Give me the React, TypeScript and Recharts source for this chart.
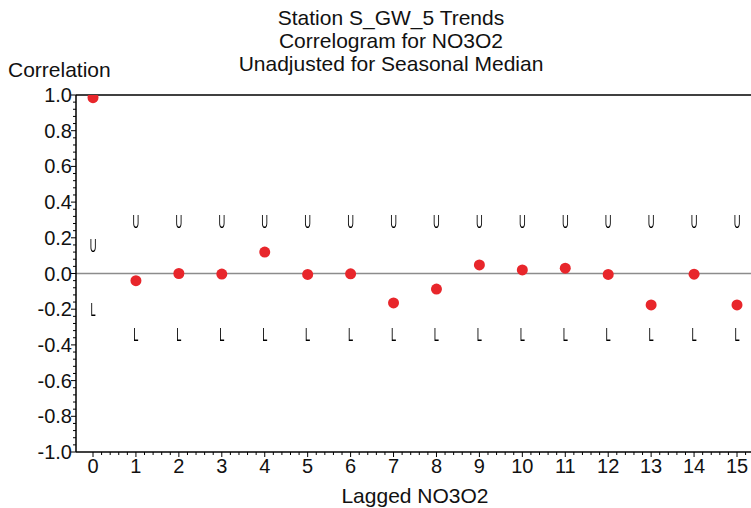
import {
  ReferenceLine,
  Scatter,
  ScatterChart,
  Text,
  XAxis,
  YAxis,
} from "recharts";

const lags = [0, 1, 2, 3, 4, 5, 6, 7, 8, 9, 10, 11, 12, 13, 14, 15];
const correlation = [
  0.985, -0.04, 0.0, -0.003, 0.12, -0.005, -0.002, -0.165, -0.087, 0.048,
  0.02, 0.03, -0.005, -0.176, -0.004, -0.176,
];
const upperBound = [
  0.158, 0.294, 0.294, 0.294, 0.294, 0.294, 0.294, 0.294, 0.294, 0.294,
  0.294, 0.294, 0.294, 0.294, 0.294, 0.294,
];
const lowerBound = [
  -0.2, -0.339, -0.339, -0.339, -0.339, -0.339, -0.339, -0.339, -0.339,
  -0.339, -0.339, -0.339, -0.339, -0.339, -0.339, -0.339,
];
const xTickLabels = lags.map(String);
const yTickLabels = ["-1.0", "-0.8", "-0.6", "-0.4", "-0.2", "0.0", "0.2", "0.4", "0.6", "0.8", "1.0"];

const titleLines = [
  "Station S_GW_5 Trends",
  "Correlogram for NO3O2",
  "Unadjusted for Seasonal Median",
];

const FONT = "'Liberation Sans', Arial, sans-serif";

// minor ticks every 0.2 on x and 0.04 on y
const xTicks = Array.from({ length: 77 }, (_, i) => Math.round(i * 2) / 10);
const yTicks = Array.from({ length: 51 }, (_, i) => Math.round((-1 + i * 0.04) * 100) / 100);

const corrPts = lags.map((lag, i) => ({ x: lag, y: correlation[i] }));
const upperPts = lags.map((lag, i) => ({ x: lag, y: upperBound[i] }));
const lowerPts = lags.map((lag, i) => ({ x: lag, y: lowerBound[i] }));

function XTick(props: any) {
  const { x, y, payload } = props;
  const v = payload.value as number;
  const major = Number.isInteger(v);
  return (
    <g>
      <line x1={x} x2={x} y1={y} y2={y + (major ? 5 : 3)} stroke="#000" strokeWidth={1} />
      {major && (
        <text x={x} y={y + 21} textAnchor="middle" fontSize={20} fontFamily={FONT} fill="#111">
          {xTickLabels[v]}
        </text>
      )}
    </g>
  );
}

function YTick(props: any) {
  const { x, y, payload } = props;
  const v = payload.value as number;
  const k = Math.round(v * 100);
  const major = k % 20 === 0;
  return (
    <g>
      <line x1={x} x2={x - (major ? 5 : 3)} y1={y} y2={y} stroke="#000" strokeWidth={1} />
      {major && (
        <text x={x - 4} y={y + 7} textAnchor="end" fontSize={20} fontFamily={FONT} fill="#111">
          {yTickLabels[(k + 100) / 20]}
        </text>
      )}
    </g>
  );
}

const dot = (props: any) => <circle cx={props.cx} cy={props.cy} r={5.5} fill="#e8262b" />;

// narrow U / L markers; the grey filter keeps the squeezed glyphs from colour fringing
const letter = (ch: string) => (props: any) => (
  <g filter="url(#mono)">
    <text
      transform={`translate(${props.cx},${props.cy + 6.5}) scale(0.52,1)`}
      textAnchor="middle"
      fontSize={18}
      fontFamily={FONT}
      fill="#000"
    >
      {ch}
    </text>
  </g>
);

export default function App() {
  return (
    <div style={{ position: "absolute", left: 0, top: 0, width: 751, height: 508, background: "#fff" }}>
      <svg width={0} height={0} style={{ position: "absolute" }}>
        <defs>
          <filter id="mono" x="-50%" y="-50%" width="200%" height="200%">
            <feColorMatrix type="saturate" values="0" />
          </filter>
        </defs>
      </svg>
      <ScatterChart width={751} height={508} margin={{ top: 95, right: 0, bottom: 0, left: 0 }}>
        <XAxis
          type="number"
          dataKey="x"
          domain={[-0.396, 15.326]}
          ticks={xTicks}
          interval={0}
          tick={<XTick />}
          tickLine={false}
          tickSize={0}
          tickMargin={0}
          height={56}
          axisLine={{ stroke: "#000", strokeWidth: 1.5 }}
          allowDataOverflow
        />
        <YAxis
          type="number"
          dataKey="y"
          domain={[-1, 1]}
          ticks={yTicks}
          interval={0}
          tick={<YTick />}
          tickLine={false}
          tickSize={0}
          tickMargin={0}
          width={76}
          axisLine={{ stroke: "#000", strokeWidth: 1.5 }}
          allowDataOverflow
        />
        <ReferenceLine y={1} stroke="#000" strokeWidth={1.5} />
        <ReferenceLine y={0} stroke="#8c8c8c" strokeWidth={1.5} />
        <Scatter data={upperPts} shape={letter("U")} isAnimationActive={false} />
        <Scatter data={lowerPts} shape={letter("L")} isAnimationActive={false} />
        <Scatter data={corrPts} shape={dot} isAnimationActive={false} />
        {titleLines.map((t, i) => (
          <Text
            key={t}
            x={391}
            y={25 + i * 23}
            textAnchor="middle"
            fontSize={21}
            fontFamily={FONT}
            fill="#111"
          >
            {t}
          </Text>
        ))}
        <Text x={8} y={77} fontSize={21} fontFamily={FONT} fill="#111">
          Correlation
        </Text>
        <Text x={415} y={503} textAnchor="middle" fontSize={21} fontFamily={FONT} fill="#111">
          Lagged NO3O2
        </Text>
      </ScatterChart>
    </div>
  );
}
